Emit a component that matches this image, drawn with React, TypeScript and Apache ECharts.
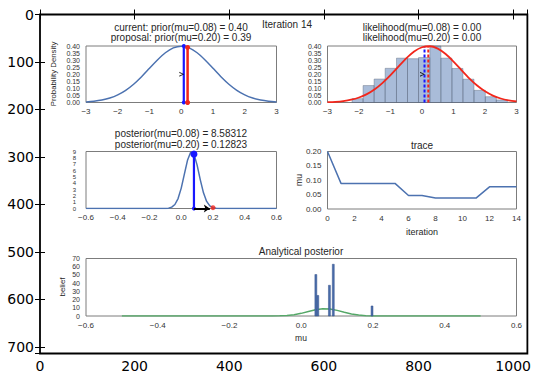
import React, { useEffect, useRef } from 'react';
import * as echarts from 'echarts';

// ---------- data ----------
const priorX = [-3, -2.75, -2.5, -2.25, -2, -1.75, -1.5, -1.25, -1, -0.75, -0.5, -0.25, 0, 0.25, 0.5, 0.75, 1, 1.25, 1.5, 1.75, 2, 2.25, 2.5, 2.75, 3];
const priorY = [0.0044, 0.0091, 0.0175, 0.0317, 0.054, 0.0863, 0.1295, 0.1826, 0.242, 0.3011, 0.3521, 0.3867, 0.3989, 0.3867, 0.3521, 0.3011, 0.242, 0.1826, 0.1295, 0.0863, 0.054, 0.0317, 0.0175, 0.0091, 0.0044];
const likelihoodY = [0.0024, 0.0051, 0.0104, 0.0198, 0.0355, 0.0596, 0.0941, 0.1394, 0.1942, 0.2541, 0.3123, 0.3605, 0.391, 0.3984, 0.3814, 0.3429, 0.2897, 0.23, 0.1714, 0.12, 0.079, 0.0488, 0.0283, 0.0155, 0.0079];

const histEdges = [-2.22, -1.87, -1.52, -1.17, -0.81, -0.46, -0.11, 0.25, 0.6, 0.95, 1.3, 1.65, 2.01, 2.36, 2.71];
const histHeights = [0.027, 0.12, 0.166, 0.242, 0.314, 0.31, 0.318, 0.4, 0.314, 0.241, 0.165, 0.086, 0.041, 0.018];

const muCurrent = 0.08;
const muProposal = 0.2;
const priorCurrent = 0.4;
const priorProposal = 0.39;
const likelihoodTop = 0.4;
const arrowLevel = 0.2;
const postCurrent = 8.58312;
const postProposal = 0.12823;
const iterationNo = 14;

const postX = [-0.6, -0.14, -0.12, -0.1, -0.08, -0.06, -0.04, -0.02, 0, 0.02, 0.04, 0.06, 0.08, 0.1, 0.12, 0.14, 0.16, 0.18, 0.2, 0.22, 0.24, 0.26, 0.6];
const postY = [0, 0.0004, 0.0025, 0.0134, 0.0587, 0.212, 0.633, 1.57, 3.22, 5.46, 7.67, 8.92, 8.59, 6.85, 4.52, 2.47, 1.12, 0.418, 0.13, 0.033, 0.007, 0.0012, 0];

const traceIter = [0, 1, 2, 3, 4, 5, 6, 7, 8, 9, 10, 11, 12, 13, 14];
const traceMu = [0.2, 0.089, 0.089, 0.089, 0.089, 0.089, 0.047, 0.047, 0.038, 0.038, 0.038, 0.038, 0.077, 0.077, 0.077];

const anaX = [-0.5, -0.14, -0.12, -0.1, -0.08, -0.06, -0.04, -0.02, 0, 0.02, 0.04, 0.06, 0.08, 0.1, 0.12, 0.14, 0.16, 0.18, 0.2, 0.22, 0.24, 0.26, 0.5];
const anaY = [0, 0.0004, 0.0025, 0.0134, 0.0587, 0.212, 0.633, 1.57, 3.22, 5.46, 7.67, 8.92, 8.59, 6.85, 4.52, 2.47, 1.12, 0.418, 0.13, 0.033, 0.007, 0.0012, 0];

const beliefLeft = [0.038, 0.0434, 0.0758, 0.0866, 0.1946];
const beliefRight = [0.0434, 0.0488, 0.0812, 0.092, 0.2];
const beliefHeight = [50.5, 25, 37.4, 63, 12.2];

const outerXTicks = [0, 200, 400, 600, 800, 1000];
const outerYTicks = [0, 100, 200, 300, 400, 500, 600, 700];

// ---------- style ----------
const FONT = "'Liberation Sans', Arial, sans-serif";
const TXT = '#262626';
const TICK = '#333333';
const FRAME = '#7c7c7c';
const SEA_BLUE = '#4C72B0';
const SEA_GREEN = '#55A868';
const RED = '#f2261b';
const BLUE = '#1818ff';

const minus = (s: string) => s.replace('-', '\u2212');
const fmt = (d: number) => (v: number) => minus((Math.abs(v) < 1e-9 ? 0 : v).toFixed(d));

const pairs = (xs: number[], ys: number[]) => xs.map((x, i) => [x, ys[i]]);

const App: React.FC = () => {
  const ref = useRef<HTMLDivElement>(null);

  useEffect(() => {
    if (!ref.current) return;
    const chart = echarts.init(ref.current, undefined, { renderer: 'svg' });

    const grids = [
      { left: 40, top: 14.5, width: 489, height: 339, show: true, borderColor: '#000', borderWidth: 1.8, backgroundColor: 'transparent' },
      { left: 86, top: 46, width: 190.5, height: 56.5 },
      { left: 327.5, top: 46, width: 189, height: 56.5 },
      { left: 86, top: 151.5, width: 190.5, height: 57 },
      { left: 327.5, top: 151.5, width: 189, height: 57.5 },
      { left: 86, top: 258.5, width: 430.5, height: 57.5 },
    ].map((g, i) => (i === 0 ? g : { ...g, show: true, borderColor: FRAME, borderWidth: 1, backgroundColor: 'transparent' }));

    const outerTick = { show: true, inside: true, length: 5, lineStyle: { color: '#000', width: 1 } };
    const outerLabel = { fontSize: 14, fontFamily: "'DejaVu Sans', sans-serif", color: '#000' };

    const innerX = (gi: number, min: number, max: number, interval: number, d: number) => ({
      type: 'value', gridIndex: gi, min, max, interval,
      axisLine: { show: false }, axisTick: { show: false }, splitLine: { show: false },
      axisLabel: { fontSize: 8, fontFamily: FONT, color: TICK, margin: 5, formatter: fmt(d), showMinLabel: true, showMaxLabel: true },
    });
    const innerY = (gi: number, min: number, max: number, interval: number, d: number, fs: number, margin: number) => ({
      type: 'value', gridIndex: gi, min, max, interval,
      axisLine: { show: false }, axisTick: { show: false }, splitLine: { show: false },
      axisLabel: { fontSize: fs, lineHeight: fs, fontFamily: FONT, color: TICK, margin, formatter: fmt(d), showMinLabel: true, showMaxLabel: true, hideOverlap: false },
    });

    const xAxis = [
      {
        type: 'value', gridIndex: 0, min: 0, max: 1030, interval: 200, position: 'bottom',
        axisLine: { show: false }, axisTick: outerTick, splitLine: { show: false },
        axisLabel: { ...outerLabel, margin: 5, showMinLabel: true, formatter: (v: number) => (outerXTicks.includes(v) ? String(v) : '') },
      },
      {
        type: 'value', gridIndex: 0, min: 0, max: 1030, interval: 200, position: 'top',
        axisLine: { show: false }, axisTick: outerTick, splitLine: { show: false }, axisLabel: { show: false },
      },
      innerX(1, -3, 3, 1, 0),
      innerX(2, -3, 3, 1, 0),
      innerX(3, -0.6, 0.6, 0.2, 1),
      innerX(4, 0, 14, 2, 0),
      innerX(5, -0.6, 0.6, 0.2, 1),
    ];
    const yAxis = [
      {
        type: 'value', gridIndex: 0, min: 0, max: 714, interval: 100, inverse: true, position: 'left',
        axisLine: { show: false }, axisTick: outerTick, splitLine: { show: false },
        axisLabel: { ...outerLabel, margin: 6, showMinLabel: true, formatter: (v: number) => (outerYTicks.includes(v) ? String(v) : '') },
      },
      {
        type: 'value', gridIndex: 0, min: 0, max: 714, interval: 100, inverse: true, position: 'right',
        axisLine: { show: false }, axisTick: outerTick, splitLine: { show: false }, axisLabel: { show: false },
      },
      innerY(1, 0, 0.4, 0.05, 2, 7, 6),
      innerY(2, 0, 0.4, 0.05, 2, 7, 6),
      innerY(3, 0, 9, 1, 0, 6, 10),
      innerY(4, 0, 0.2, 0.05, 2, 8, 6),
      innerY(5, 0, 70, 10, 0, 7, 6),
    ];

    const chevron = 'path://M0,0 L10,5 L0,10 L0,7.6 L6.4,5 L0,2.4 Z';

    const rectItem = (fill: string, stroke: string, lw: number) => (params: any, api: any) => {
      const p0 = api.coord([api.value(0), api.value(2)]);
      const p1 = api.coord([api.value(1), 0]);
      return {
        type: 'rect',
        shape: { x: p0[0], y: p0[1], width: p1[0] - p0[0], height: p1[1] - p0[1] },
        style: { fill, stroke, lineWidth: lw },
      };
    };

    const vline = (ax: number, x: number, y0: number, y1: number, color: string, width: number, extra: any = {}) => ({
      type: 'line', xAxisIndex: ax, yAxisIndex: ax, data: [[x, y0], [x, y1]],
      lineStyle: { color, width }, itemStyle: { color }, symbol: 'none', ...extra,
    });

    const series: any[] = [
      // ---- prior ----
      { type: 'line', xAxisIndex: 2, yAxisIndex: 2, data: pairs(priorX, priorY), smooth: 0.3, showSymbol: false, lineStyle: { color: SEA_BLUE, width: 1.5 }, z: 2 },
      vline(2, muCurrent, 0, priorCurrent, BLUE, 2.2, { symbol: 'circle', symbolSize: 4, showSymbol: true, z: 3 }),
      vline(2, muProposal, 0, priorProposal, RED, 2.5, { symbol: 'circle', symbolSize: 5, showSymbol: true, z: 3 }),
      { type: 'scatter', xAxisIndex: 2, yAxisIndex: 2, data: [[muCurrent, arrowLevel]], symbol: chevron, symbolSize: [5, 5], symbolOffset: [-2, 0], itemStyle: { color: '#000' }, z: 5 },
      // ---- likelihood ----
      {
        type: 'custom', xAxisIndex: 3, yAxisIndex: 3,
        data: histHeights.map((h, i) => [histEdges[i], histEdges[i + 1], h]),
        encode: { x: [0, 1], y: 2 },
        renderItem: rectItem('rgba(76,114,176,0.48)', 'rgba(95,105,125,0.55)', 0.8), z: 1,
      },
      vline(3, muCurrent, 0, likelihoodTop, BLUE, 2, { lineStyle: { color: BLUE, width: 2, type: [3, 2] }, z: 3 }),
      vline(3, muProposal, 0, likelihoodTop, RED, 2, { lineStyle: { color: RED, width: 2, type: [3, 2] }, z: 3 }),
      { type: 'line', xAxisIndex: 3, yAxisIndex: 3, data: pairs(priorX, likelihoodY), smooth: 0.3, showSymbol: false, lineStyle: { color: RED, width: 1.8 }, z: 4 },
      { type: 'scatter', xAxisIndex: 3, yAxisIndex: 3, data: [[muCurrent, arrowLevel]], symbol: chevron, symbolSize: [5, 5], symbolOffset: [-2, 0], itemStyle: { color: '#000' }, z: 5 },
      // ---- posterior ----
      { type: 'line', xAxisIndex: 4, yAxisIndex: 4, data: pairs(postX, postY), showSymbol: false, lineStyle: { color: SEA_BLUE, width: 1.5 }, z: 2 },
      {
        type: 'line', xAxisIndex: 4, yAxisIndex: 4,
        data: [{ value: [muCurrent, 0], symbolSize: 4 }, { value: [muCurrent, postCurrent], symbolSize: 7 }],
        symbol: 'circle', showSymbol: true, lineStyle: { color: BLUE, width: 2.2 }, itemStyle: { color: BLUE }, z: 3,
      },
      { type: 'scatter', xAxisIndex: 4, yAxisIndex: 4, data: [[muProposal, postProposal]], symbol: 'circle', symbolSize: 5, itemStyle: { color: RED }, z: 3 },
      {
        type: 'line', xAxisIndex: 4, yAxisIndex: 4, data: [], z: 4,
        markLine: {
          silent: true, symbol: ['none', 'arrow'], symbolSize: [6, 6], label: { show: false },
          lineStyle: { color: '#000', width: 2, type: 'solid' },
          data: [[{ coord: [muCurrent, 0] }, { coord: [muProposal - 0.02, 0] }]],
        },
      },
      // ---- trace ----
      { type: 'line', xAxisIndex: 5, yAxisIndex: 5, data: pairs(traceIter, traceMu), showSymbol: false, lineStyle: { color: SEA_BLUE, width: 1.5 } },
      // ---- analytical posterior ----
      { type: 'line', xAxisIndex: 6, yAxisIndex: 6, data: pairs(anaX, anaY), showSymbol: false, lineStyle: { color: SEA_GREEN, width: 1.5 }, z: 2 },
      {
        type: 'custom', xAxisIndex: 6, yAxisIndex: 6,
        data: beliefHeight.map((h, i) => [beliefLeft[i], beliefRight[i], h]),
        encode: { x: [0, 1], y: 2 },
        renderItem: rectItem('#4a6dab', '#34508a', 0.5), z: 3,
      },
    ];

    const t = (text: string, x: number, y: number, size: number, rot = 0) => ({
      type: 'text', x, y, rotation: rot, silent: true,
      style: { text, fill: TXT, font: `${size}px ${FONT}`, textAlign: 'center', textVerticalAlign: 'middle', align: 'center', verticalAlign: 'middle' },
    });

    const graphic = [
      t(`Iteration ${iterationNo}`, 287, 24.5, 10),
      t(`current: prior(mu=${muCurrent.toFixed(2)}) = ${priorCurrent.toFixed(2)}`, 181, 27, 10),
      t(`proposal: prior(mu=${muProposal.toFixed(2)}) = ${priorProposal.toFixed(2)}`, 181, 37.5, 10),
      t(`likelihood(mu=${muCurrent.toFixed(2)}) = 0.00`, 422, 27, 10),
      t(`likelihood(mu=${muProposal.toFixed(2)}) = 0.00`, 422, 37.5, 10),
      t(`posterior(mu=${muCurrent.toFixed(2)}) = ${postCurrent.toFixed(5)}`, 181, 133.5, 10),
      t(`posterior(mu=${muProposal.toFixed(2)}) = ${postProposal.toFixed(5)}`, 181, 144.5, 10),
      t('trace', 422, 145.3, 10),
      t('Analytical posterior', 301, 251.7, 10),
      t('Probability Density', 53.5, 74, 7.8, Math.PI / 2),
      t('mu', 298.5, 180, 8.5, Math.PI / 2),
      t('iteration', 422, 231.7, 9),
      t('belief', 62, 287, 8, Math.PI / 2),
      t('mu', 301, 337.5, 8.5),
    ];

    chart.setOption({
      animation: false,
      backgroundColor: '#fff',
      grid: grids,
      xAxis,
      yAxis,
      series,
      graphic,
    } as any);

    return () => chart.dispose();
  }, []);

  return <div ref={ref} style={{ position: 'fixed', left: 0, top: 0, width: 534, height: 373 }} />;
};

export default App;
